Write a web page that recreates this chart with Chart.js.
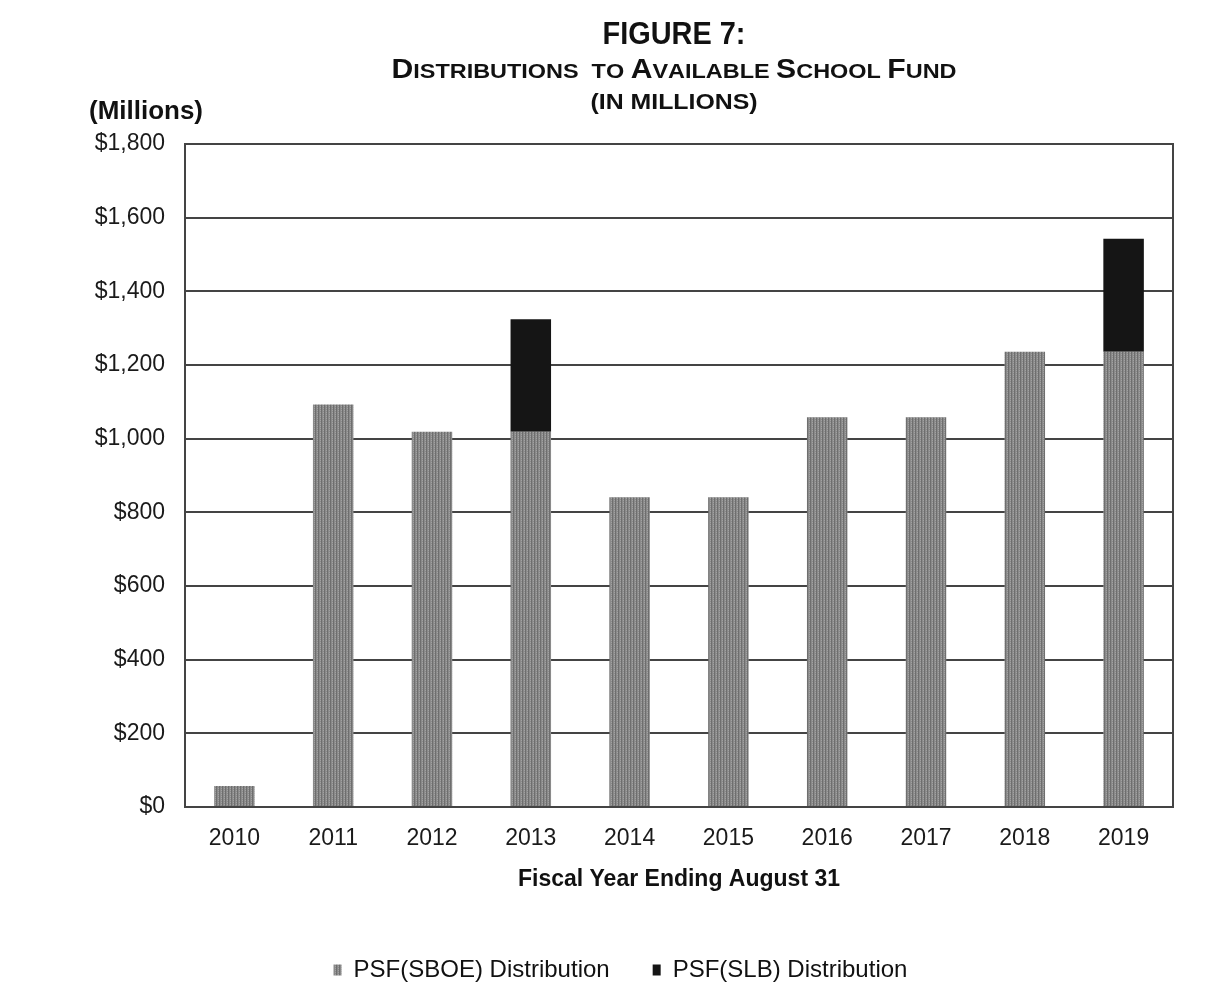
<!DOCTYPE html>
<html>
<head>
<meta charset="utf-8">
<script src="https://cdn.jsdelivr.net/npm/chart.js@4.4.0/dist/chart.umd.min.js"></script>
<style>
  html, body { margin: 0; padding: 0; background: #fff; }
  #wrap { width: 1211px; height: 1003px; }
</style>
</head>
<body>
<div id="wrap"><canvas id="chart"></canvas></div>
<script>
const years = ['2010', '2011', '2012', '2013', '2014', '2015', '2016', '2017', '2018', '2019'];
const sboe = [57, 1093, 1019, 1019, 841, 841, 1058, 1058, 1236, 1236];
const slb = [null, null, null, 305, null, null, null, null, null, 307];
const yMax = 1800;
const yStep = 200;

const FONT = '"Liberation Sans", Arial, sans-serif';

// gray stipple like the scanned bars
function grayPattern() {
  const p = document.createElement('canvas');
  p.width = 3; p.height = 2;
  const g = p.getContext('2d');
  g.fillStyle = '#8a8a8a'; g.fillRect(0, 0, 3, 2);
  g.fillStyle = '#6e6e6e'; g.fillRect(0, 0, 1, 2);
  g.fillStyle = '#a2a2a2'; g.fillRect(2, 0, 1, 1);
  return g.createPattern(p, 'repeat');
}

// draw a line in small caps, stretched to a given width
function capsLine(ctx, text, cx, baseline, big, small, width) {
  const parts = [];
  let total = 0;
  for (const ch of text) {
    const isBig = /[A-Z0-9:]/.test(ch);
    const size = isBig ? big : small;
    ctx.font = 'bold ' + size + 'px ' + FONT;
    const s = ch.toUpperCase();
    const w = ctx.measureText(s).width;
    parts.push([s, size, w]);
    total += w;
  }
  const sx = width / total;
  ctx.save();
  ctx.translate(cx - width / 2, baseline);
  ctx.scale(sx, 1);
  ctx.textBaseline = 'alphabetic';
  ctx.textAlign = 'left';
  ctx.fillStyle = '#111';
  let x = 0;
  for (const [s, size, w] of parts) {
    ctx.font = 'bold ' + size + 'px ' + FONT;
    ctx.fillText(s, x, 0);
    x += w;
  }
  ctx.restore();
}

const titles = {
  id: 'titles',
  afterDraw(chart) {
    const ctx = chart.ctx;
    capsLine(ctx, 'FIGURE 7:', 674, 44, 32, 32, 143);
    capsLine(ctx, 'Distributions  to Available School Fund', 674, 78, 27, 21, 565);
    capsLine(ctx, '(in millions)', 674, 109, 22, 22, 167);
    ctx.save();
    ctx.font = 'bold 26px ' + FONT;
    ctx.fillStyle = '#111';
    ctx.textBaseline = 'alphabetic';
    ctx.textAlign = 'left';
    ctx.fillText('(Millions)', 89, 119, 114);
    ctx.restore();
  }
};

const frame = {
  id: 'frame',
  afterDatasetsDraw(chart) {
    const a = chart.chartArea;
    const ctx = chart.ctx;
    ctx.save();
    ctx.strokeStyle = '#444';
    ctx.lineWidth = 2;
    ctx.strokeRect(a.left, a.top, a.right - a.left, a.bottom - a.top);
    ctx.restore();
  }
};

new Chart(document.getElementById('chart'), {
  type: 'bar',
  data: {
    labels: years,
    datasets: [
      { label: 'PSF(SBOE) Distribution', data: sboe, backgroundColor: grayPattern() },
      { label: 'PSF(SLB) Distribution', data: slb, backgroundColor: '#151515' }
    ]
  },
  options: {
    responsive: true,
    maintainAspectRatio: false,
    animation: false,
    layout: { padding: { top: 144, right: 38, left: 68, bottom: 11 } },
    datasets: { bar: { categoryPercentage: 1, barPercentage: 0.41 } },
    scales: {
      x: {
        stacked: true,
        grid: { display: false },
        border: { display: false },
        ticks: { color: '#1a1a1a', font: { family: FONT, size: 23 }, padding: 10 },
        title: {
          display: true,
          text: 'Fiscal Year Ending August 31',
          color: '#111',
          font: { family: FONT, size: 23, weight: 'bold' },
          padding: { top: 10, bottom: 22 }
        },
        afterFit(s) { s.height = 108; }
      },
      y: {
        stacked: true,
        min: 0,
        max: yMax,
        grid: { color: '#444', lineWidth: 2, drawTicks: false },
        border: { display: false },
        ticks: {
          stepSize: yStep,
          color: '#1a1a1a',
          font: { family: FONT, size: 23 },
          padding: 20,
          callback: v => '$' + v.toLocaleString('en-US')
        },
        afterFit(s) { s.width = 117; }
      }
    },
    plugins: {
      title: { display: false },
      tooltip: { enabled: false },
      legend: {
        position: 'bottom',
        labels: {
          color: '#111',
          font: { family: FONT, size: 24 },
          boxWidth: 8,
          boxHeight: 11,
          padding: 43
        }
      }
    }
  },
  plugins: [titles, frame]
});
</script>
</body>
</html>
